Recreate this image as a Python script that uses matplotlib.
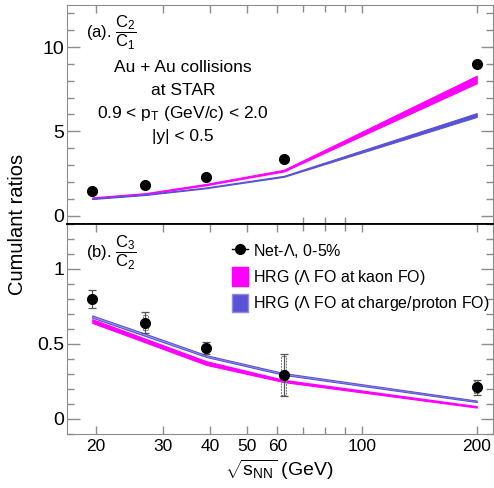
import matplotlib
matplotlib.use("Agg")
import matplotlib.pyplot as plt
from matplotlib.patches import Patch, Rectangle
from matplotlib.lines import Line2D
from matplotlib.ticker import FixedLocator, NullFormatter, MultipleLocator

plt.rcParams["font.family"] = ["Liberation Sans", "DejaVu Sans"]
plt.rcParams["mathtext.fontset"] = "custom"
plt.rcParams["mathtext.rm"] = "Liberation Sans"
plt.rcParams["mathtext.it"] = "Liberation Sans"

# collision energies (GeV)
energy = [19.6, 27, 39, 62.4, 200]

# (a) C2/C1
c2c1 = [1.43, 1.79, 2.28, 3.33, 8.97]
c2c1_kaon_lo = [1.02, 1.27, 1.80, 2.62, 7.85]
c2c1_kaon_hi = [1.08, 1.33, 1.88, 2.72, 8.30]
c2c1_prot_lo = [0.98, 1.22, 1.62, 2.30, 5.85]
c2c1_prot_hi = [1.02, 1.26, 1.67, 2.36, 6.08]

# (b) C3/C2
c3c2 = [0.80, 0.64, 0.47, 0.29, 0.21]
c3c2_stat = [0.06, 0.07, 0.04, 0.14, 0.05]
c3c2_sys = [0.0, 0.05, 0.03, 0.13, 0.04]
c3c2_kaon_lo = [0.640, 0.510, 0.360, 0.245, 0.075]
c3c2_kaon_hi = [0.665, 0.535, 0.385, 0.260, 0.085]
c3c2_prot_lo = [0.675, 0.553, 0.413, 0.293, 0.112]
c3c2_prot_hi = [0.690, 0.568, 0.425, 0.305, 0.122]

xticks = [20, 30, 40, 50, 60, 100, 200]
MAGENTA = "#ff00ff"
BLUE = "#5a52d6"
GRAY = "#8c8c8c"

fig = plt.figure(figsize=(4.94, 4.88), dpi=100)
ax1 = fig.add_axes([0.135, 0.541, 0.862, 0.449])
ax2 = fig.add_axes([0.135, 0.111, 0.862, 0.430])


def style_axis(ax):
    ax.set_xscale("log")
    ax.set_xlim(16.8, 220)
    ax.xaxis.set_major_locator(FixedLocator(xticks))
    ax.xaxis.set_minor_locator(FixedLocator([70, 80, 90]))
    ax.xaxis.set_minor_formatter(NullFormatter())
    ax.tick_params(axis="both", which="both", direction="in", color=GRAY,
                   width=1.0, top=True, right=True)
    ax.tick_params(axis="y", which="major", length=9, labelsize=14, pad=2)
    ax.tick_params(axis="y", which="minor", length=5)
    ax.tick_params(axis="x", which="major", length=6, labelsize=12.5, pad=4)
    ax.tick_params(axis="x", which="minor", length=5)
    for s in ax.spines.values():
        s.set_color(GRAY)


# top panel
style_axis(ax1)
ax1.fill_between(energy, c2c1_kaon_lo, c2c1_kaon_hi, color=MAGENTA, lw=0.8)
ax1.fill_between(energy, c2c1_prot_lo, c2c1_prot_hi, color=BLUE, lw=0.8)
ax1.plot(energy, c2c1, "o", color="black", ms=7)
ax1.set_ylim(-0.5, 12.5)
ax1.yaxis.set_major_locator(FixedLocator([0, 5, 10]))
ax1.yaxis.set_minor_locator(MultipleLocator(1))
ax1.set_yticklabels(["0", "5", "10"])
ax1.tick_params(axis="x", bottom=False, labelbottom=False)
ax1.spines["bottom"].set_color("black")
ax1.spines["bottom"].set_linewidth(1.3)

ax1.text(0.045, 0.872, r"(a). $\dfrac{\mathrm{C}_2}{\mathrm{C}_1}$",
         transform=ax1.transAxes, fontsize=12, va="center")
for i, line in enumerate(["Au + Au collisions", "at STAR",
                          r"0.9 < p$_\mathrm{T}$ (GeV/c) < 2.0",
                          "|y| < 0.5"]):
    ax1.text(0.273, 0.715 - i * 0.105, line, transform=ax1.transAxes,
             fontsize=12.5, ha="center", va="center")

# bottom panel
style_axis(ax2)
ax2.fill_between(energy, c3c2_kaon_lo, c3c2_kaon_hi, color=MAGENTA, lw=0.8)
ax2.fill_between(energy, c3c2_prot_lo, c3c2_prot_hi, color="#9d98ea",
                 edgecolor=BLUE, lw=0.8)
for x, y, s in zip(energy, c3c2, c3c2_sys):
    if s > 0:
        ax2.add_patch(Rectangle((x * 0.985, y - s), x * 0.03, 2 * s,
                                fill=False, ec="#777777", lw=0.7, ls=(0, (2, 1))))
ax2.errorbar(energy, c3c2, yerr=c3c2_stat, fmt="o", color="black", ms=7,
             ecolor="#555555", elinewidth=0.9, capsize=3, capthick=0.9)
ax2.set_ylim(-0.1, 1.3)
ax2.yaxis.set_major_locator(FixedLocator([0, 0.5, 1]))
ax2.yaxis.set_minor_locator(MultipleLocator(0.1))
ax2.set_yticklabels(["0", "0.5", "1"])
ax2.set_xticklabels([str(t) for t in xticks])
ax2.spines["top"].set_color("black")
ax2.spines["top"].set_linewidth(1.3)

ax2.text(0.045, 0.862, r"(b). $\dfrac{\mathrm{C}_3}{\mathrm{C}_2}$",
         transform=ax2.transAxes, fontsize=12, va="center")

handles = [
    Line2D([], [], marker="o", color="black", ms=7, lw=1),
    Patch(facecolor=MAGENTA, edgecolor=MAGENTA),
    Patch(facecolor=BLUE, edgecolor="#8f8ae6"),
]
labels = [r"Net-$\Lambda$, 0-5%", r"HRG ($\Lambda$ FO at kaon FO)",
          r"HRG ($\Lambda$ FO at charge/proton FO)"]
ax2.legend(handles, labels, loc="upper left", bbox_to_anchor=(0.355, 0.985),
           frameon=False, fontsize=11.5, handlelength=1.0, handleheight=1.4,
           handletextpad=0.3, labelspacing=0.45)

fig.text(0.036, 0.541, "Cumulant ratios", rotation=90, fontsize=14.5,
         ha="center", va="center")
fig.text(0.566, 0.037, r"$\sqrt{s_{\mathrm{NN}}}$ (GeV)", fontsize=14,
         ha="center", va="center")

fig.savefig("out.png", dpi=100)
